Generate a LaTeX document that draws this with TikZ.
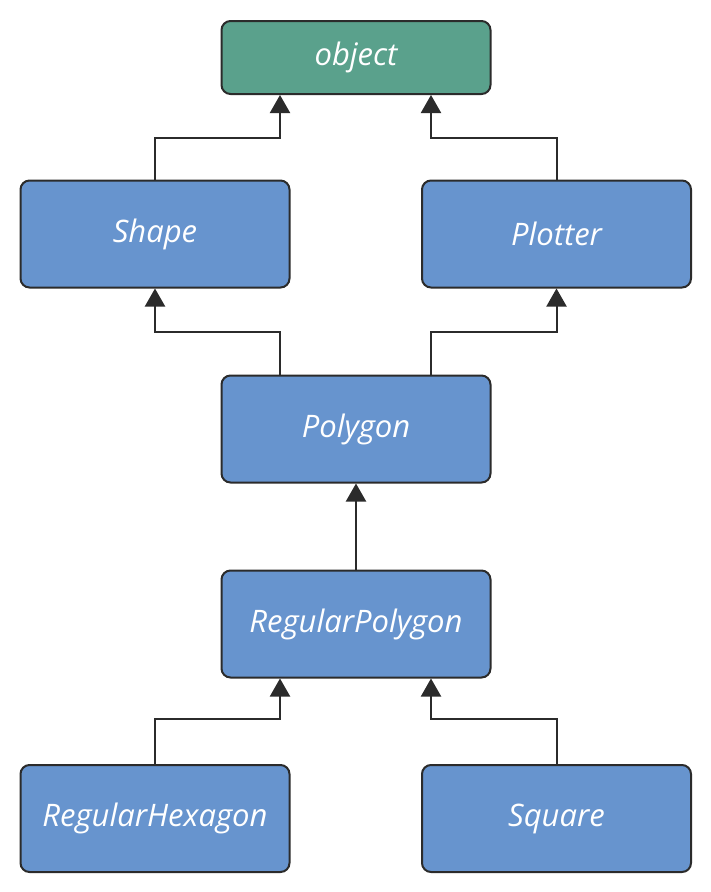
\documentclass[tikz,border=0pt]{standalone}
\usepackage{fontspec}
\setmainfont{Open Sans}
\usetikzlibrary{arrows.meta}
\definecolor{classblue}{HTML}{6794CE}
\definecolor{rootgreen}{HTML}{5AA18C}
\definecolor{edgegray}{HTML}{2B2B2B}
\begin{document}
\begin{tikzpicture}[
    x=1pt, y=1pt,
    classbox/.style={draw=edgegray, line width=2pt, rounded corners=9pt, fill=classblue,
        minimum width=269pt, minimum height=107pt, inner sep=0,
        text=white, font=\fontsize{31}{36}\selectfont\itshape},
    rootbox/.style={classbox, fill=rootgreen, minimum height=73pt},
    inherit/.style={draw=edgegray, line width=2pt, -{Triangle[width=20pt 0, length=18pt 0]}}
    ]
    \useasboundingbox (0,0) rectangle (710,-892);

    % Class nodes
    \node[rootbox] (obj) at (356,-57.5) {object};
    \node[classbox] (shape) at (155,-234) {Shape};
    \node[classbox] (plotter) at (556.5,-234) {Plotter};
    \node[classbox] (poly) at (356,-429) {Polygon};
    \node[classbox] (regpoly) at (356,-624) {RegularPolygon};
    \node[classbox] (hexagon) at (155,-818.5) {RegularHexagon};
    \node[classbox] (square) at (556.5,-818.5) {Square};

    % Inheritance arrows
    \draw[inherit] (shape.north) -- ++(0,42) -| ([xshift=-76pt]obj.south);
    \draw[inherit] (plotter.north) -- ++(0,42) -| ([xshift=75pt]obj.south);
    \draw[inherit] ([xshift=-76pt]poly.north) -- ++(0,43) -| (shape.south);
    \draw[inherit] ([xshift=75pt]poly.north) -- ++(0,43) -| (plotter.south);
    \draw[inherit] (regpoly.north) -- (poly.south);
    \draw[inherit] (hexagon.north) -- ++(0,45) -| ([xshift=-76pt]regpoly.south);
    \draw[inherit] (square.north) -- ++(0,45) -| ([xshift=75pt]regpoly.south);

\end{tikzpicture}
\end{document}
